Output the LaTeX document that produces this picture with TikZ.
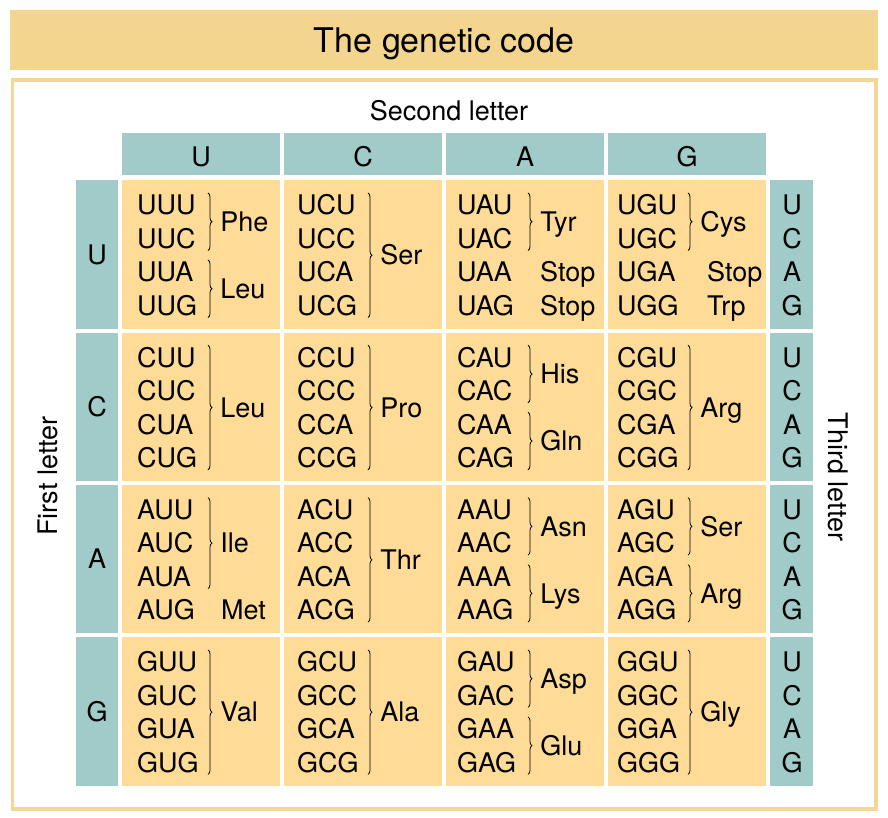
\documentclass[tikz,border=0pt]{standalone}
\usepackage{fontspec}
\setmainfont{TeX Gyre Heros}
\usetikzlibrary{calc}
\usetikzlibrary{positioning}
\usetikzlibrary{decorations.pathreplacing}
\definecolor{gcteal}{RGB}{161,203,200}
\definecolor{gccell}{RGB}{254,219,150}
\definecolor{gctitle}{RGB}{243,213,144}
\definecolor{gcframe}{RGB}{245,214,148}
\tikzset{txt/.style={inner sep=0pt, text height=19.4pt, text depth=0pt,
                     font=\fontsize{27}{31}\selectfont}}
\tikzset{codon/.style={txt, anchor=west}}
\tikzset{aa/.style={txt, right=12pt}}
\tikzset{tealbox/.style={fill=gcteal, inner sep=0pt, anchor=north west}}
\tikzset{cellbox/.style={fill=gccell, inner sep=0pt, anchor=north west}}
\tikzset{brace/.style={decorate, decoration={brace, amplitude=4pt}, line width=0.8pt}}

\begin{document}
\begin{tikzpicture}[x=1pt, y=-1pt]
   \useasboundingbox (0,0) rectangle (888,818);

   % title bar and frame
   \node[fill=gctitle, inner sep=0pt, anchor=north west,
         minimum width=868pt, minimum height=60pt] (title) at (10,10) {};
   \node[txt, text height=24.4pt, font=\fontsize{34}{40}\selectfont] (titletxt) at (title.center) {The genetic code};
   \draw[gcframe, line width=3.5pt] (12.5,80) rectangle (876,809);

   \node[txt] (second) at (449,111) {Second letter};
   \node[txt, rotate=90] (first) at (48,476) {First letter};
   \node[txt, rotate=-90] (third) at (838,477) {Third letter};

   % second letter header
   \foreach \c [count=\i from 0] in {U,C,A,G} {
      \node[tealbox, minimum width=158pt, minimum height=42pt] (head-\c) at (122+162*\i,133) {};
      \node[txt] (headtxt-\c) at ($(head-\c.center)+(0,3)$) {\c};
   }

   % rows of codons
   \foreach \r [count=\j from 0] in {U,C,A,G} {
      \node[tealbox, minimum width=42pt, minimum height=148.5pt] (left-\r) at (76,180+152.3*\j) {};
      \node[txt] (lefttxt-\r) at (left-\r.center) {\r};
      \node[tealbox, minimum width=43pt, minimum height=148.5pt] (right-\r) at (770,180+152.3*\j) {};
      \foreach \c [count=\i from 0] in {U,C,A,G} {
         \node[cellbox, minimum width=158pt, minimum height=148.5pt] (cell-\r\c) at (122+162*\i,180+152.3*\j) {};
         \foreach \t [count=\k from 0] in {U,C,A,G}
            \node[codon] (\r\c\t) at (137+160*\i,205+152.3*\j+33.5*\k) {\r\c\t};
      }
      \foreach \t [count=\k from 0] in {U,C,A,G}
         \node[txt] (righttxt-\r\t) at (792,205+152.3*\j+33.5*\k) {\t};
   }

   % amino acids with braces
   \foreach \a/\b/\l in {UUU/UUC/Phe, UUA/UUG/Leu, UCU/UCG/Ser, UAU/UAC/Tyr, UGU/UGC/Cys,
                         CUU/CUG/Leu, CCU/CCG/Pro, CAU/CAC/His, CAA/CAG/Gln, CGU/CGG/Arg,
                         AUU/AUA/Ile, ACU/ACG/Thr, AAU/AAC/Asn, AAA/AAG/Lys, AGU/AGC/Ser, AGA/AGG/Arg,
                         GUU/GUG/Val, GCU/GCG/Ala, GAU/GAC/Asp, GAA/GAG/Glu, GGU/GGG/Gly}
      \draw[brace] ($(\a.west)+(71,-12)$) -- node[aa] (aa-\a) {\l} ($(\b.west)+(71,12)$);

   % single codons
   \foreach \a/\l/\d in {UAA/Stop/83, UAG/Stop/83, UGA/Stop/90, UGG/Trp/90, AUG/Met/84}
      \node[txt, anchor=west] (aa-\a) at ($(\a.west)+(\d,0)$) {\l};
\end{tikzpicture}
\end{document}
